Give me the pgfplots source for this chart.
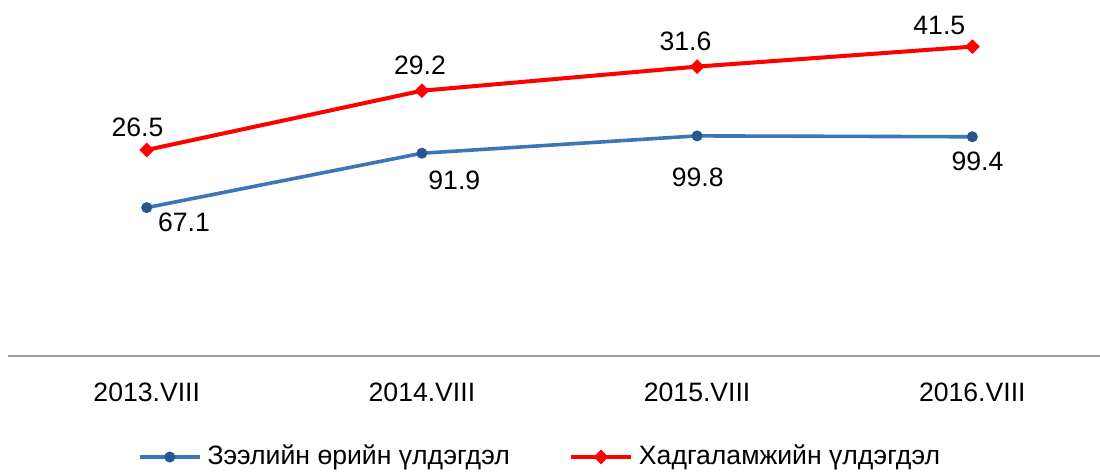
\documentclass[border=0pt]{standalone}
\usepackage{fontspec}
\setmainfont{Liberation Sans}
\usepackage{pgfplots}
\pgfplotsset{compat=1.18}
\usepackage{pgfplotstable}
\usetikzlibrary{calc}

\definecolor{loanblue}{RGB}{58,118,184}
\definecolor{loandark}{RGB}{37,88,143}
\definecolor{depred}{RGB}{255,0,0}

% x = category, y = position on the chart, label = printed value, dx/dy = label offset (bp)
\pgfplotstableread{
x y label dx dy
0 67.1 67.1 18.6 -7.6
1 91.9 91.9 16.2 -13.8
2 99.8 99.8 0.3 -20.8
3 99.4 99.4 2.6 -12.5
}\loans
\pgfplotstableread{
x y label dx dy
0 93.4 26.5 -4.6 11.2
1 120.4 29.2 -1.0 12.8
2 131.4 31.6 -5.8 12.8
3 140.5 41.5 -16.5 10.4
}\deposits

\begin{document}
\fontsize{13.3bp}{16bp}\selectfont
\begin{tikzpicture}
\begin{axis}[
    name=ax,
    scale only axis,
    width=545.85bp, height=173bp,
    xmin=-0.503, xmax=3.464,
    ymin=-0.55, ymax=157.2,
    axis x line*=bottom,
    axis y line=none,
    x axis line style={draw=black!38, line width=0.8bp},
    xtick={0,1,2,3},
    xticklabels={2013.VIII,2014.VIII,2015.VIII,2016.VIII},
    xtick style={draw=none},
    xticklabel style={anchor=center, yshift=-18bp},
    ytick=\empty,
    clip=false,
    point meta=explicit symbolic,
    visualization depends on={\thisrow{dx} \as \labdx},
    visualization depends on={\thisrow{dy} \as \labdy},
    nodes near coords,
    every node near coord/.append style={anchor=center, inner sep=0pt,
        xshift=\labdx bp, yshift=\labdy bp, text=black},
    legend columns=2,
    legend style={draw=none, fill=none, inner sep=0pt, outer sep=0pt,
        at={(axis description cs:0.1188,-0.292)}, anchor=west,
        nodes={inner sep=0pt},
        /tikz/every odd column/.style={column sep=3bp},
        /tikz/every even column/.style={column sep=29.5bp}},
    legend image code/.code={
        \draw[mark repeat=2, mark phase=2] plot coordinates {(0bp,0bp) (15bp,0bp) (30bp,0bp)};},
]
\addplot[loanblue, line width=1.8bp, mark=*, mark size=2.5bp,
    mark options={fill=loandark, draw=loandark, line width=0.5bp}]
    table[x=x, y=y, meta=label] {\loans};
\addlegendentry{Зээлийн өрийн үлдэгдэл}
\addplot[depred, line width=2bp, mark=square*, mark size=2.45bp,
    mark options={fill=depred, draw=depred, rotate=45, line width=0.3bp}]
    table[x=x, y=y, meta=label] {\deposits};
\addlegendentry{Хадгаламжийн үлдэгдэл}
\end{axis}
\pgfresetboundingbox
\path[use as bounding box] ($(ax.south west)+(-4.15bp,-58bp)$) rectangle +(550bp,236bp);
\end{tikzpicture}
\end{document}
